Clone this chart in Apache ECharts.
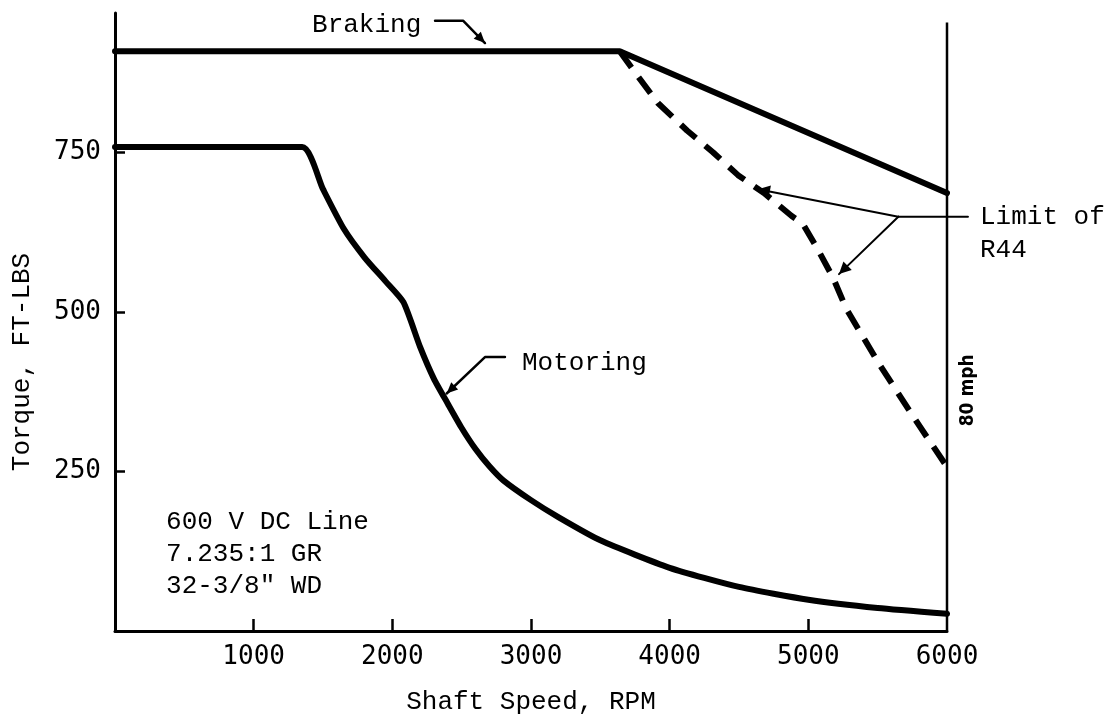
<!DOCTYPE html>
<html>
<head>
<meta charset="utf-8">
<script src="https://cdn.jsdelivr.net/npm/echarts@6/dist/echarts.min.js"></script>
<style>
  html, body { margin: 0; padding: 0; background: #fff; }
  #chart { width: 1116px; height: 725px; }
</style>
</head>
<body>
<div id="chart"></div>
<script>
// Shaft speed (RPM) and torque (FT-LBS) readings for the R44 traction motor.
const speedTicks = [1000, 2000, 3000, 4000, 5000, 6000];
const torqueTicks = [250, 500, 750];

const brakingRpm = [0, 3640, 6000];
const brakingTorque = [908, 908, 686];

const limitRpm = [3640, 3750, 3915, 4125, 4312, 4493, 4680, 4880, 4960, 5060, 5177, 5273, 5517, 5805, 6000];
const limitTorque = [908, 875, 827, 784, 750, 714, 686, 650, 638, 601, 554, 505, 416, 320, 257];

const motoringRpm = [0, 1350, 1500, 1650, 1800, 1950, 2080, 2200, 2300, 2400, 2500, 2600, 2700, 2800, 3000, 3200, 3500, 4000, 4500, 5000, 5500, 6000];
const motoringTorque = [758, 758, 692, 630, 585, 548, 515, 445, 395, 356, 318, 285, 258, 236, 205, 178, 142, 99, 69, 49, 36, 27];

// 80 mph speed limit line at 6000 RPM
const limitSpeedRpm = [6000, 6000];
const limitSpeedTorque = [0, 953];

const zip = (xs, ys) => xs.map((x, i) => [x, ys[i]]);

const MONO = '"Liberation Mono", "DejaVu Sans Mono", monospace';
const LABEL_FONT = '"DejaVu Sans Mono", monospace';

const chart = echarts.init(document.getElementById('chart'), null, { renderer: 'canvas' });

const curve = (name, data, width, extra) => Object.assign({
  name, type: 'line', data, symbol: 'none', silent: true, animation: false,
  lineStyle: { color: '#000', width, cap: 'round', join: 'round' }
}, extra || {});

chart.setOption({
  animation: false,
  backgroundColor: '#fff',
  grid: { left: 115, right: 169, top: 13, bottom: 94 },
  xAxis: {
    type: 'value', min: 0, max: 6000,
    name: 'Shaft Speed, RPM', nameLocation: 'middle', nameGap: 58,
    nameTextStyle: { fontFamily: MONO, fontSize: 26, color: '#000' },
    axisLine: { show: true, lineStyle: { color: '#000', width: 3 } },
    axisTick: { show: true, inside: true, length: 12, customValues: speedTicks.slice(0, 5),
                lineStyle: { color: '#000', width: 2.5 } },
    axisLabel: { customValues: speedTicks, formatter: v => String(v),
                 fontFamily: LABEL_FONT, fontSize: 26, color: '#000', margin: 13 },
    splitLine: { show: false }
  },
  yAxis: {
    type: 'value', min: 0, max: 968,
    name: 'Torque, FT-LBS', nameLocation: 'middle', nameGap: 80, nameRotate: 90,
    nameTextStyle: { fontFamily: MONO, fontSize: 26, color: '#000', padding: [0, 80, 0, 0] },
    axisLine: { show: true, lineStyle: { color: '#000', width: 3 } },
    axisTick: { show: true, inside: true, length: 10, customValues: torqueTicks,
                lineStyle: { color: '#000', width: 2.5 } },
    axisLabel: { customValues: torqueTicks, formatter: v => String(v),
                 fontFamily: LABEL_FONT, fontSize: 26, color: '#000', margin: 14 },
    splitLine: { show: false }
  },
  series: [
    curve('Braking', zip(brakingRpm, brakingTorque), 6),
    curve('Limit of R44', zip(limitRpm, limitTorque), 6, {
      lineStyle: { color: '#000', width: 6, type: [20, 12], cap: 'butt', join: 'round' }
    }),
    curve('Motoring', zip(motoringRpm, motoringTorque), 6, { smooth: 0.2 }),
    curve('80 mph', zip(limitSpeedRpm, limitSpeedTorque), 2.5, {
      lineStyle: { color: '#000', width: 2.5, cap: 'butt' }
    })
  ]
});

// Annotation layout, given in axis units so it follows the scales.
const notes = {
  braking: { text: [1421, 949], leader: [[2308, 956], [2510, 956], [2668, 921]] },
  motoring: { text: [2935, 420], leader: [[2812, 429], [2668, 429], [2392, 372]] },
  limit: {
    text: [6238, 648], text2: [6238, 597],
    bar: [[6151, 649], [5649, 649]],
    upper: [[5649, 649], [4637, 692]],
    lower: [[5649, 649], [5221, 559]]
  },
  conditions: { x: 368, ys: [171, 121, 70.5] },
  mph: [6151, 377]
};

const px = p => chart.convertToPixel({ gridIndex: 0 }, p);

function arrowHead(tip, from, len, half) {
  const dx = tip[0] - from[0], dy = tip[1] - from[1];
  const d = Math.hypot(dx, dy) || 1;
  const ux = dx / d, uy = dy / d;
  const bx = tip[0] - ux * len, by = tip[1] - uy * len;
  return {
    type: 'polygon', silent: true,
    shape: { points: [tip, [bx - uy * half, by + ux * half], [bx + uy * half, by - ux * half]] },
    style: { fill: '#000' }
  };
}

function leader(points, width, head) {
  const pts = points.map(px);
  const els = [{
    type: 'polyline', silent: true,
    shape: { points: pts },
    style: { stroke: '#000', lineWidth: width, fill: null, lineJoin: 'round', lineCap: 'round' }
  }];
  if (head) els.push(arrowHead(pts[pts.length - 1], pts[pts.length - 2], head[0], head[1]));
  return els;
}

function label(pos, text, opts) {
  const p = px(pos);
  return Object.assign({
    type: 'text', silent: true, x: p[0], y: p[1],
    style: Object.assign({
      text, fill: '#000', fontFamily: MONO, fontSize: 26,
      align: 'left', verticalAlign: 'middle'
    }, (opts && opts.style) || {})
  }, (opts && opts.el) || {});
}

const graphics = []
  .concat([label(notes.braking.text, 'Braking')])
  .concat(leader(notes.braking.leader, 2.5, [11, 5]))
  .concat([label(notes.motoring.text, 'Motoring')])
  .concat(leader(notes.motoring.leader, 2.5, [11, 5]))
  .concat([label(notes.limit.text, 'Limit of'), label(notes.limit.text2, 'R44')])
  .concat(leader(notes.limit.bar, 2, null))
  .concat(leader(notes.limit.upper, 2, [12, 6]))
  .concat(leader(notes.limit.lower, 2, [12, 6]))
  .concat(['600 V DC Line', '7.235:1 GR', '32-3/8" WD'].map((t, i) =>
    label([notes.conditions.x, notes.conditions.ys[i]], t)))
  .concat([label(notes.mph, '80 mph', {
    el: { rotation: Math.PI / 2 },
    style: { fontFamily: '"DejaVu Sans Condensed", "DejaVu Sans", sans-serif', fontWeight: 'bold',
             fontSize: 19, align: 'center' }
  })]);

chart.setOption({ graphic: graphics });
</script>
</body>
</html>
